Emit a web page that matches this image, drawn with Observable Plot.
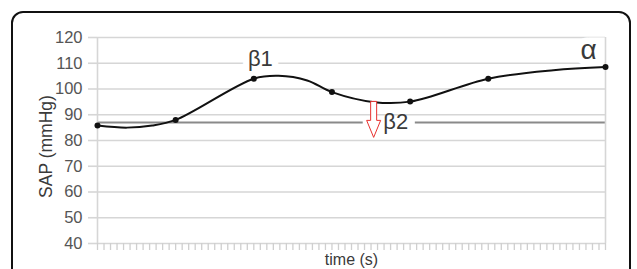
<!DOCTYPE html>
<html>
<head>
<meta charset="utf-8">
<script src="https://cdn.jsdelivr.net/npm/d3@7"></script>
<script src="https://cdn.jsdelivr.net/npm/@observablehq/plot@0.6"></script>
<style>
  html, body { margin: 0; padding: 0; background: #fff; }
  body { width: 637px; height: 269px; overflow: hidden; position: relative; }
  #frame { position: absolute; left: 11px; top: 11px; width: 620px; height: 320px;
           border: 2.5px solid #111; border-radius: 12px; box-sizing: border-box; pointer-events: none; }
  #chart { position: absolute; left: 0; top: 0; }
</style>
</head>
<body>
<div id="chart"></div>
<div id="frame"></div>
<script>
// ---- data ----
const yTicks = [40, 50, 60, 70, 80, 90, 100, 110, 120];
const xTicks = d3.range(0, 79);            // unlabeled time ticks (s)
const curveTime = [0, 4.5, 8.4, 12, 24, 27.8, 32.2, 36, 42.5, 48, 60, 70, 78];
const curveSAP  = [85.8, 85.0, 85.8, 88.0, 104.0, 105.1, 103.3, 98.8, 94.9, 95.1, 104.0, 107.3, 108.5];
const dotTime = [0, 12, 24, 36, 48, 60, 78];
const dotSAP  = [85.8, 88.0, 104.0, 98.8, 95.1, 104.0, 108.5];
const thresholdSAP = 87;
const thresholdStart = [0, 48.8];
const thresholdEnd   = [40.8, 78];
const labelText = ["β1", "β2", "α"];
const labelTime = [25.0, 45.8, 75.4];
const labelSAP  = [111.8, 87.3, 115.3];
const arrowTime = [42.4];
const arrowSAP  = [88.2];

// ---- tables ----
const curve = curveTime.map((t, i) => ({t, v: curveSAP[i]}));
const dots = dotTime.map((t, i) => ({t, v: dotSAP[i]}));
const thr = thresholdStart.map((s, i) => ({x1: s, x2: thresholdEnd[i], y: thresholdSAP}));
const labels = labelText.map((s, i) => ({s, t: labelTime[i], v: labelSAP[i]}));
const arrows = arrowTime.map((t, i) => ({t, v: arrowSAP[i]}));

const hollowArrow = {
  draw(ctx) {
    ctx.moveTo(-3, -18); ctx.lineTo(3, -18); ctx.lineTo(3, 1); ctx.lineTo(7, 1);
    ctx.lineTo(0, 18); ctx.lineTo(-7, 1); ctx.lineTo(-3, 1); ctx.closePath();
  }
};

const font = "'Liberation Sans', Arial, sans-serif";
const grid = "#d6d6d6";

const chart = Plot.plot({
  width: 637, height: 269,
  marginLeft: 97, marginRight: 32, marginTop: 37, marginBottom: 26,
  style: {fontFamily: font, background: "transparent"},
  x: {domain: [0, 78], axis: null},
  y: {domain: [40, 120], axis: null},
  marks: [
    Plot.gridY(yTicks, {stroke: grid, strokeOpacity: 1, strokeWidth: 1.6}),
    Plot.axisY(yTicks, {tickSize: 9, tickPadding: 6, stroke: grid, strokeWidth: 1.6, fill: "#555",
                        fontSize: 16.5, label: null, tickFormat: d => d}),
    Plot.axisX(xTicks, {tickSize: 7, stroke: "#cfcfcf", strokeWidth: 1.3, tickFormat: () => "", label: null}),
    Plot.ruleY(thr, {x1: "x1", x2: "x2", y: "y", stroke: "#8a8a8a", strokeWidth: 2}),
    Plot.text(labels.filter(d => d.s !== "β2"), {x: "t", y: "v", text: "s", fill: "none", stroke: "white",
               strokeWidth: 13, strokeLinejoin: "miter",
               fontSize: d => d.s === "α" ? 28 : 22}),
    Plot.ruleX([0, 78], {y1: 40, y2: 120, stroke: grid, strokeWidth: 1.6}),
    Plot.line(curve, {x: "t", y: "v", curve: "catmull-rom", stroke: "#111", strokeWidth: 2}),
    Plot.dot(dots, {x: "t", y: "v", r: 3, fill: "#111"}),
    Plot.dot(arrows, {x: "t", y: "v", symbol: hollowArrow, fill: "white", stroke: "#e8322f", strokeWidth: 1}),
    Plot.text(labels, {x: "t", y: "v", text: "s", fill: "#3a3a3a",
               fontSize: d => d.s === "α" ? 28 : 22}),
    Plot.text(["SAP (mmHg)"], {frameAnchor: "left", textAnchor: "middle", lineAnchor: "middle",
               dx: -51, dy: 6, rotate: -90, fontSize: 17.5, fill: "#3a3a3a"}),
    Plot.text(["time (s)"], {frameAnchor: "bottom", textAnchor: "middle", lineAnchor: "middle",
               dy: 16.5, fontSize: 16, fill: "#3a3a3a"})
  ]
});
document.getElementById("chart").appendChild(chart);
</script>
</body>
</html>
